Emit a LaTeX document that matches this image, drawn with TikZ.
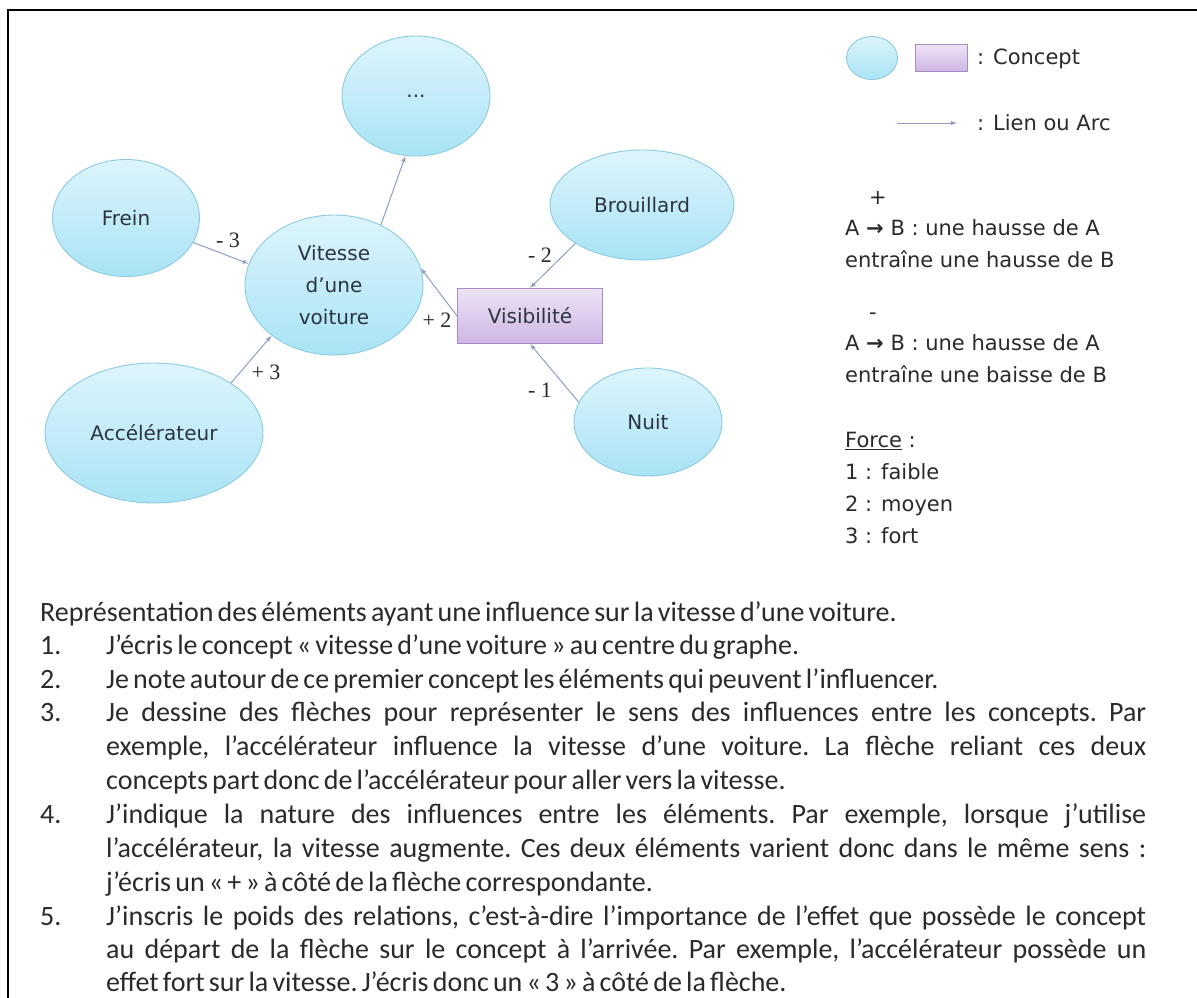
\documentclass[tikz,border=0pt]{standalone}
\usepackage{fontspec}
\setmainfont{Carlito}
\newfontfamily\labfont{Liberation Serif}
\newfontfamily\dvfont{DejaVu Sans}
\usetikzlibrary{shapes.geometric,arrows.meta}
\definecolor{cytop}{HTML}{DDF5FC}
\definecolor{cybot}{HTML}{A9E3F5}
\definecolor{cyline}{HTML}{8CCBE0}
\definecolor{vitop}{HTML}{EEE3F6}
\definecolor{vibot}{HTML}{CDB6E3}
\definecolor{viline}{HTML}{A68BC6}
\definecolor{edgec}{HTML}{8E9FC2}
\definecolor{txt}{HTML}{2C3440}
\definecolor{body}{HTML}{2A2A2A}
\newcommand\bodyset{\fontsize{28}{30}\selectfont\frenchspacing\spaceskip=0.15em plus 1fil\xspaceskip=0.15em plus 1fil\relax}
\tikzset{
  concept/.style={ellipse, draw=cyline, line width=0.9pt, top color=cytop, bottom color=cybot,
    inner sep=0pt, align=center, text=txt, font=\dvfont\fontsize{20}{32}\selectfont},
  rectconcept/.style={rectangle, draw=viline, line width=0.9pt, top color=vitop, bottom color=vibot,
    inner sep=0pt, align=center, text=txt, font=\dvfont\fontsize{20}{24}\selectfont},
  link/.style={draw=edgec, line width=1pt, -{Latex[length=6pt,width=4.5pt]}},
  elab/.style={font=\labfont\fontsize{22}{24}\selectfont, text=body, inner sep=0pt},
  legtxt/.style={anchor=base west, inner sep=0pt, text=body, font=\dvfont\fontsize{21}{24}\selectfont},
  bodytxt/.style={anchor=base west, inner sep=0pt, text=body},
}
\begin{document}
\begin{tikzpicture}[x=1pt,y=-1pt]
\useasboundingbox (0,0) rectangle (1197,998);
\fill[white] (0,0) rectangle (1197,998);
\draw[line width=2pt] (1197,10) -- (8,10) -- (8,998);

% concepts
\node[concept, minimum width=148pt, minimum height=120pt] (dots) at (416,96) {...};
\node[concept, minimum width=147pt, minimum height=117pt] (frein) at (126,218) {Frein};
\node[concept, minimum width=178pt, minimum height=140pt] (vit) at (334,285) {Vitesse\\d’une\\voiture};
\node[concept, minimum width=184pt, minimum height=110pt] (broui) at (642,205) {Brouillard};
\node[rectconcept, minimum width=145pt, minimum height=55pt] (visi) at (530,316) {Visibilité};
\node[concept, minimum width=218pt, minimum height=140pt] (acc) at (154,433) {Accélérateur};
\node[concept, minimum width=148pt, minimum height=108pt] (nuit) at (648,422) {Nuit};

% links
\draw[link] (frein.-20) -- (vit.166);
\draw[link] (vit.52) -- (dots.-100);
\draw[link] (broui.-150) -- (visi.north);
\draw[link] (visi.west) -- (vit.11);
\draw[link] (acc.33) -- (vit.219);
\draw[link] (nuit.164) -- (visi.south);

% link labels
\node[elab] (l1) at (228,240) {- 3};
\node[elab] (l2) at (540,255) {- 2};
\node[elab] (l3) at (437,320) {+ 2};
\node[elab] (l4) at (266,372) {+ 3};
\node[elab] (l5) at (540,390) {- 1};

% legend
\node[concept, minimum width=51pt, minimum height=43pt] (lege) at (872,58) {};
\node[rectconcept, minimum width=52pt, minimum height=27pt] (legr) at (941,58) {};
\node[legtxt] (lc) at (977,65) {: Concept};
\coordinate (la1) at (897,123);
\coordinate (la2) at (957,123);
\draw[link] (la1) -- (la2);
\node[legtxt] (ll) at (977,130) {: Lien ou Arc};
\node[legtxt] (plus) at (869,204) {+};
\node[legtxt] (p1) at (845,235) {A {\bfseries →} B : une hausse de A};
\node[legtxt] (p2) at (845,267) {entraîne une hausse de B};
\node[legtxt] (minus) at (869,319) {-};
\node[legtxt] (m1) at (845,350) {A {\bfseries →} B : une hausse de A};
\node[legtxt] (m2) at (845,382) {entraîne une baisse de B};
\node[legtxt] (f0) at (845,447) {\underline{Force} :};
\node[legtxt] (f1) at (845,479) {1 : faible};
\node[legtxt] (f2) at (845,511) {2 : moyen};
\node[legtxt] (f3) at (845,543) {3 : fort};

% body text
\node[bodytxt] (t0) at (40,621) {\bodyset Représentation des éléments ayant une influence sur la vitesse d’une voiture.};
\node[bodytxt] (n1) at (40,654) {\bodyset 1.};
\node[bodytxt] (t1) at (106,654) {\bodyset J’écris le concept « vitesse d’une voiture » au centre du graphe.};
\node[bodytxt] (n2) at (40,688) {\bodyset 2.};
\node[bodytxt] (t2) at (106,688) {\bodyset Je note autour de ce premier concept les éléments qui peuvent l’influencer.};
\node[bodytxt] (n3) at (40,721) {\bodyset 3.};
\node[bodytxt] (t3a) at (106,721) {\bodyset\makebox[1040pt][s]{Je dessine des flèches pour représenter le sens des influences entre les concepts. Par}};
\node[bodytxt] (t3b) at (106,755) {\bodyset\makebox[1040pt][s]{exemple, l’accélérateur influence la vitesse d’une voiture. La flèche reliant ces deux}};
\node[bodytxt] (t3c) at (106,789) {\bodyset concepts part donc de l’accélérateur pour aller vers la vitesse.};
\node[bodytxt] (n4) at (40,823) {\bodyset 4.};
\node[bodytxt] (t4a) at (106,823) {\bodyset\makebox[1040pt][s]{J’indique la nature des influences entre les éléments. Par exemple, lorsque j’utilise}};
\node[bodytxt] (t4b) at (106,857) {\bodyset\makebox[1040pt][s]{l’accélérateur, la vitesse augmente. Ces deux éléments varient donc dans le même sens :}};
\node[bodytxt] (t4c) at (106,891) {\bodyset j’écris un « + » à côté de la flèche correspondante.};
\node[bodytxt] (n5) at (40,925) {\bodyset 5.};
\node[bodytxt] (t5a) at (106,925) {\bodyset\makebox[1040pt][s]{J’inscris le poids des relations, c’est-à-dire l’importance de l’effet que possède le concept}};
\node[bodytxt] (t5b) at (106,958) {\bodyset\makebox[1040pt][s]{au départ de la flèche sur le concept à l’arrivée. Par exemple, l’accélérateur possède un}};
\node[bodytxt] (t5c) at (106,991) {\bodyset effet fort sur la vitesse. J’écris donc un « 3 » à côté de la flèche.};
\end{tikzpicture}
\end{document}
